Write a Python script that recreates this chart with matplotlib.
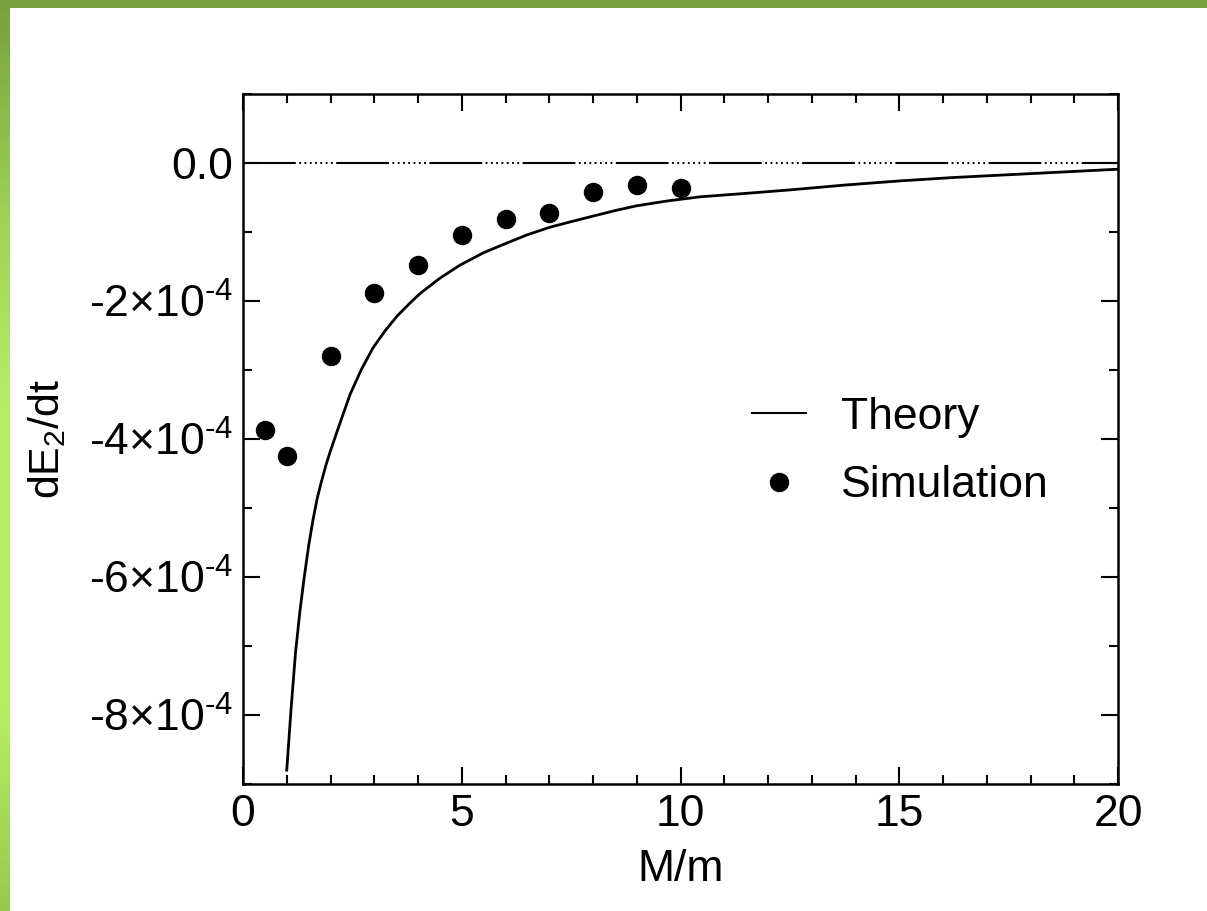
import numpy as np
import matplotlib
matplotlib.use("Agg")
import matplotlib.pyplot as plt
from matplotlib.colors import LinearSegmentedColormap
from matplotlib.patches import Rectangle

plt.rcParams['font.family'] = ['Liberation Sans', 'DejaVu Sans']
plt.rcParams['mathtext.fontset'] = 'custom'
plt.rcParams['mathtext.rm'] = 'Liberation Sans'
plt.rcParams['mathtext.it'] = 'Liberation Sans'
plt.rcParams['lines.scale_dashes'] = False

# theory curve (units of 1e-4)
theory_x = [1.0, 1.1, 1.2, 1.3, 1.4, 1.5, 1.6, 1.7, 1.8, 1.9, 2.0, 2.2, 2.45, 2.7,
            2.97, 3.25, 3.52, 3.8, 4.05, 4.5, 4.96, 5.5, 6.03, 6.5, 7.02, 7.5,
            8.0, 8.5, 9.0, 9.7, 10.45, 11.5, 12.5, 13.75, 15.0, 16.25, 17.5,
            18.75, 20.0]
theory_y = [-8.8, -7.9, -7.1, -6.5, -6.0, -5.55, -5.17, -4.85, -4.6, -4.37, -4.17,
            -3.8, -3.35, -3.0, -2.68, -2.43, -2.22, -2.04, -1.89, -1.67, -1.48,
            -1.3, -1.16, -1.04, -0.93, -0.85, -0.77, -0.69, -0.62, -0.55, -0.49,
            -0.44, -0.39, -0.32, -0.26, -0.21, -0.17, -0.13, -0.09]

# simulation points (units of 1e-4)
sim_x = [0.5, 1, 2, 3, 4, 5, 6, 7, 8, 9, 10]
sim_y = [-3.87, -4.25, -2.79, -1.89, -1.48, -1.05, -0.81, -0.73, -0.42, -0.32, -0.36]

yticks = [0, -2, -4, -6, -8]
ytick_labels = ['0.0', r'-2$\times$10$^{\text{-4}}$', r'-4$\times$10$^{\text{-4}}$',
                r'-6$\times$10$^{\text{-4}}$', r'-8$\times$10$^{\text{-4}}$']
xticks = [0, 5, 10, 15, 20]

W, H = 1207, 911
fig = plt.figure(figsize=(W / 100, H / 100), dpi=100)
fig.patch.set_facecolor('white')

# green slide border
fig.patches.append(Rectangle((0, 1 - 8 / H), 1, 8 / H, transform=fig.transFigure,
                             facecolor='#7a9f41', edgecolor='none', zorder=0))
gax = fig.add_axes([0, 0, 10 / W, 1])
cmap = LinearSegmentedColormap.from_list('g', [(0, '#79a03f'), (0.25, '#a0d457'),
                                               (0.45, '#b6ef6a'), (0.78, '#b6ee66'),
                                               (1.0, '#98c94e')])
gax.imshow(np.linspace(0, 1, 256).reshape(-1, 1), cmap=cmap, aspect='auto')
gax.axis('off')

ax = fig.add_axes([243 / W, 1 - 784 / H, 875 / W, 690 / H])

ax.axhline(0, color='black', lw=1.5, dashes=(38, 2.5, 1.3, 2.5, 1.3, 2.5, 1.3, 2.5,
                                                1.3, 2.5, 1.3, 2.5, 1.3, 2.5, 1.3, 2.5),
           zorder=1)
ax.plot(theory_x, theory_y, color='black', lw=2, label='Theory', zorder=2)
ax.plot(sim_x, sim_y, 'o', color='black', ms=13, label='Simulation', zorder=3)

ax.set_xlim(0, 20)
ax.set_ylim(-9, 1)
ax.set_xticks(xticks)
ax.set_xticks(np.arange(0, 21, 1), minor=True)
ax.set_yticks(yticks)
ax.set_yticklabels(ytick_labels)
ax.set_yticks(np.arange(-9, 2, 1), minor=True)

for s in ax.spines.values():
    s.set_linewidth(1.8)
ax.tick_params(which='both', direction='in', top=True, right=True, width=1.5,
               labelsize=32, pad=7)
ax.tick_params(which='major', length=12.5)
ax.tick_params(which='minor', length=6.5)

ax.set_xlabel('M/m', fontsize=32, labelpad=10)
ax.set_ylabel(r'dE$_2$/dt', fontsize=31, labelpad=15)

leg = ax.legend(loc='center left', bbox_to_anchor=(0.582, 0.482), frameon=False,
                fontsize=32, borderpad=0, borderaxespad=0, handlelength=1.2,
                handletextpad=0.8, labelspacing=0.62, markerscale=1.0)
leg.get_lines()[0].set_linewidth(1.5)

fig.savefig('out.png', dpi=100)
